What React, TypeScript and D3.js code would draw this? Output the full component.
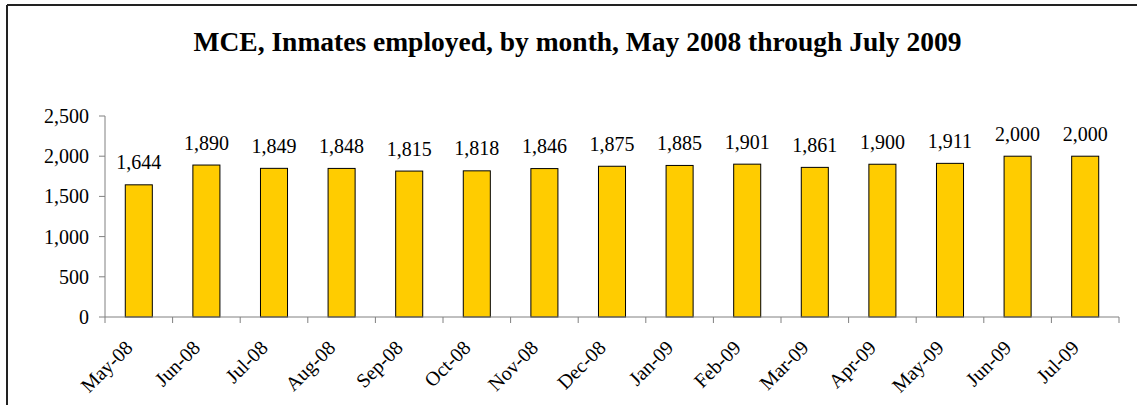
import React from "react";
import * as d3 from "d3";

const months = ["May-08","Jun-08","Jul-08","Aug-08","Sep-08","Oct-08","Nov-08","Dec-08","Jan-09","Feb-09","Mar-09","Apr-09","May-09","Jun-09","Jul-09"];
const employed = [1644,1890,1849,1848,1815,1818,1846,1875,1885,1901,1861,1900,1911,2000,2000];
const yTicks = [0,500,1000,1500,2000,2500];
const title = "MCE, Inmates employed, by month, May 2008 through July 2009";

export default function App() {
  const W = 1137, H = 405;
  const x0 = 105, x1 = 1119, yBase = 317, yTop = 116;
  const x = d3.scaleBand<string>().domain(months).range([x0, x1]).paddingInner(0.6).paddingOuter(0.3);
  const xb = d3.scaleBand<string>().domain(months).range([x0, x1]);
  const y = d3.scaleLinear().domain([0, 2500]).range([yBase, yTop]);
  const fmt = d3.format(",");
  const ts = { fontFamily: "'Liberation Serif'" };
  return (
    <svg width={W} height={H} style={{ position: "absolute", left: 0, top: 0, background: "#fff" }}>
      <rect x={0} y={0} width={W} height={H} fill="#fff" />
      <line x1={7} y1={5} x2={W} y2={5} stroke="#222" strokeWidth={2} />
      <line x1={7} y1={5} x2={7} y2={H} stroke="#222" strokeWidth={2} />
      <text x={577.5} y={51} textAnchor="middle" fontSize={27.5} fontWeight="bold" fill="#000" style={ts}>{title}</text>
      {employed.map((v, i) => (
        <rect key={i} x={x(months[i])!} y={y(v)} width={x.bandwidth()} height={yBase - y(v)} fill="#FFCC00" stroke="#000" strokeWidth={1} />
      ))}
      {employed.map((v, i) => (
        <text key={"l" + i} x={x(months[i])! + x.bandwidth() / 2} y={y(v) - 15.5} textAnchor="middle" fontSize={20} fill="#000" style={ts}>{fmt(v)}</text>
      ))}
      <line x1={x0} y1={yTop} x2={x0} y2={yBase} stroke="#808080" strokeWidth={1} />
      <line x1={x0} y1={yBase} x2={x1} y2={yBase} stroke="#808080" strokeWidth={1} />
      {yTicks.map((t) => (
        <g key={t}>
          <line x1={x0 - 6} x2={x0} y1={y(t)} y2={y(t)} stroke="#808080" />
          <text x={89} y={y(t)} dy="0.35em" textAnchor="end" fontSize={20} fill="#000" style={ts}>{fmt(t)}</text>
        </g>
      ))}
      {[...months.map((m) => xb(m)!), x1].map((px, i) => (
        <line key={"t" + i} x1={px} x2={px} y1={yBase} y2={yBase + 6} stroke="#808080" />
      ))}
      {months.map((m) => {
        const cx = xb(m)! + xb.bandwidth() / 2;
        return (
          <text key={m} transform={`translate(${cx - 5},${349}) rotate(-45)`} textAnchor="end" fontSize={20} fill="#000" style={ts}>{m}</text>
        );
      })}
    </svg>
  );
}
